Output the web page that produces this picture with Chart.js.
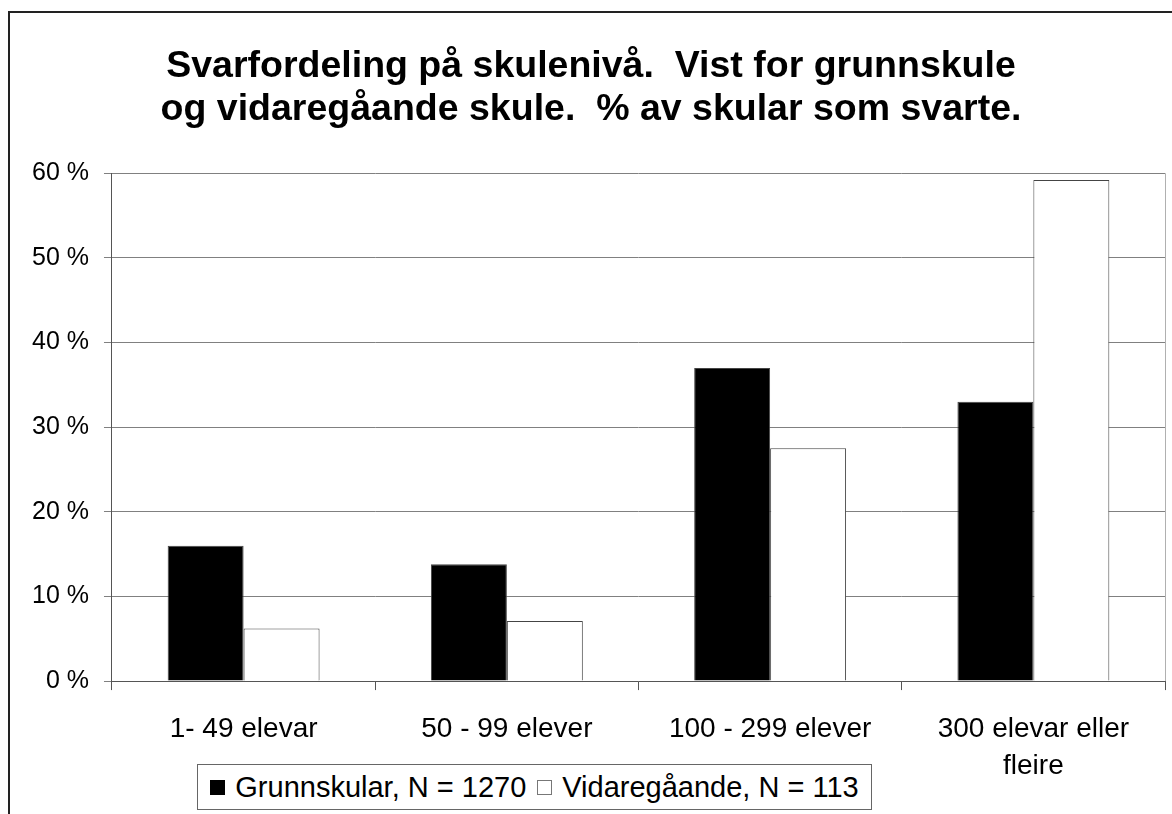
<!DOCTYPE html>
<html>
<head>
<meta charset="utf-8">
<script src="https://cdn.jsdelivr.net/npm/chart.js@4"></script>
<style>
  body { margin: 0; background: #fff; overflow: hidden; }
  #wrap { position: relative; width: 1172px; height: 814px; }
  #frame { position: absolute; left: 8px; top: 11px; width: 1300px; height: 900px;
           border-top: 2px solid #222; border-left: 2px solid #222; }
  #myChart { position: absolute; left: 0; top: 0; }
  #legend { position: absolute; left: 197px; top: 764px; width: 673px; height: 44px;
            border: 1px solid #666; background: #fff; display: flex; align-items: center;
            justify-content: center; font: 29px "Liberation Sans", Arial, sans-serif; color: #000;
            white-space: nowrap; }
  .sw { display: inline-block; width: 15px; height: 15px; margin: 0 10px 0 0; box-sizing: border-box; }
  .item { display: flex; align-items: center; margin-right: 11px; }
  .item:last-child { margin-right: 0; }
</style>
</head>
<body>
<div id="wrap">
  <div id="frame"></div>
  <canvas id="myChart" width="1172" height="814"></canvas>
  <div id="legend"></div>
</div>
<script>
// Data
// --------------------------------------------
const categories = ['1- 49 elevar', '50 - 99 elever', '100 - 299 elever', ['300 elevar eller', 'fleire']]
const seriesNames = ['Grunnskular, N = 1270', 'Vidaregåande, N = 113']
const grunnskular = [16, 13.8, 37, 33]
const vidaregaande = [6.2, 7.1, 27.5, 59.2]
const yTicks = [0, 10, 20, 30, 40, 50, 60]

const titleLines = ['Svarfordeling på skulenivå.  Vist for grunnskule',
                    'og vidaregåande skule.  % av skular som svarte.']

const fontFamily = '"Liberation Sans", Arial, sans-serif'

// right edge of the plot area
const plotBorder = {
    id: 'plotBorder',
    afterDraw(chart) {
        const a = chart.chartArea
        const ctx = chart.ctx
        ctx.save()
        ctx.strokeStyle = '#b0b0b0'
        ctx.lineWidth = 1
        ctx.beginPath()
        ctx.moveTo(Math.round(a.right) + 0.5, a.top)
        ctx.lineTo(Math.round(a.right) + 0.5, a.bottom)
        ctx.stroke()
        ctx.restore()
    }
}

// Plots the dataset
// --------------------------------------------
const ctx = document.getElementById('myChart').getContext('2d')
const myChart = new Chart(ctx, {
    type: 'bar',
    data: {
        labels: categories,
        datasets: [{
            label: seriesNames[0],
            data: grunnskular,
            backgroundColor: '#000000',
            borderColor: '#444444',
            borderWidth: 1
        }, {
            label: seriesNames[1],
            data: vidaregaande,
            backgroundColor: '#ffffff',
            borderColor: '#444444',
            borderWidth: 1
        }]
    },
    options: {
        responsive: false,
        animation: false,
        categoryPercentage: 0.577,
        barPercentage: 1,
        layout: { padding: { left: 17, right: 7, top: 0, bottom: 8 } },
        plugins: {
            legend: { display: false },
            tooltip: { enabled: false },
            title: {
                display: true,
                text: titleLines,
                color: '#000',
                font: { family: fontFamily, size: 37.5, weight: 'bold', lineHeight: 1.15 },
                padding: { top: 45, bottom: 42 }
            }
        },
        scales: {
            x: {
                grid: { display: true, drawOnChartArea: false, tickLength: 9, color: '#555' },
                border: { color: '#555' },
                ticks: {
                    color: '#000', padding: 21, maxRotation: 0, autoSkip: false,
                    font: { family: fontFamily, size: 28, lineHeight: 1.32 }
                }
            },
            y: {
                min: 0,
                max: 60,
                afterBuildTicks: axis => { axis.ticks = yTicks.map(v => ({ value: v })) },
                grid: { color: '#808080', tickLength: 8 },
                border: { color: '#555' },
                ticks: {
                    color: '#000', padding: 15,
                    font: { family: fontFamily, size: 25 },
                    callback: v => v + ' %'
                }
            }
        }
    },
    plugins: [plotBorder]
})

// HTML legend with a box round it
// --------------------------------------------
const legend = document.getElementById('legend')
myChart.data.datasets.forEach(ds => {
    const item = document.createElement('span')
    item.className = 'item'
    const sw = document.createElement('span')
    sw.className = 'sw'
    sw.style.background = ds.backgroundColor
    sw.style.border = '1px solid ' + (ds.backgroundColor === '#ffffff' ? '#777' : '#000')
    item.appendChild(sw)
    item.appendChild(document.createTextNode(ds.label))
    legend.appendChild(item)
})
</script>
</body>
</html>
